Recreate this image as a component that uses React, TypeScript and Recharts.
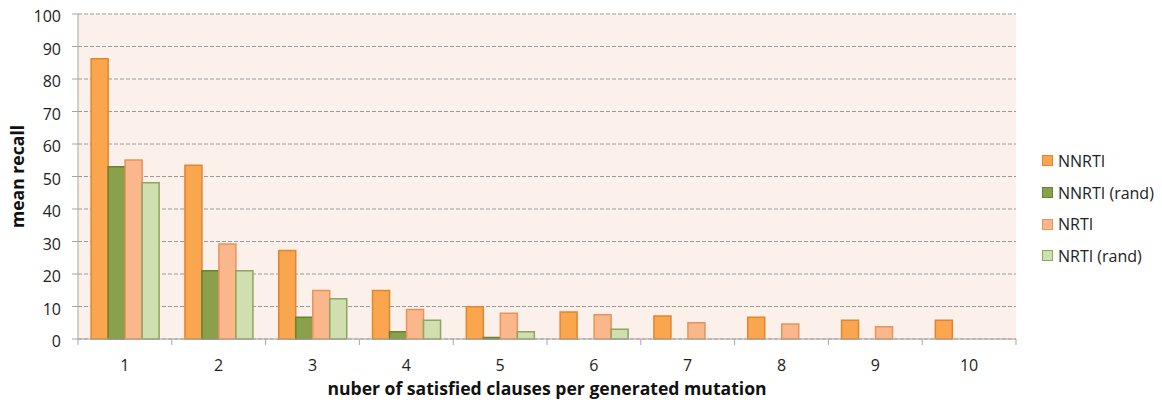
import React from "react";
import { BarChart, Bar, XAxis, YAxis, CartesianGrid, Legend, Label } from "recharts";

const categories = ["1", "2", "3", "4", "5", "6", "7", "8", "9", "10"];
const nnrti = [86.2, 53.5, 27.2, 14.9, 9.9, 8.3, 7.1, 6.7, 5.8, 5.8];
const nnrtiRand = [53.0, 21.0, 6.7, 2.2, 0.5, null, null, null, null, null];
const nrti = [55.1, 29.2, 14.9, 9.1, 7.9, 7.5, 5.0, 4.6, 3.8, null];
const nrtiRand = [48.1, 21.0, 12.4, 5.8, 2.2, 3.0, null, null, null, null];
const yTicks = [0, 10, 20, 30, 40, 50, 60, 70, 80, 90, 100];

const seriesDefs = [
  { key: "NNRTI", fill: "#F9A64F", stroke: "#E0862F" },
  { key: "NNRTI (rand)", fill: "#8AA04A", stroke: "#6A8033" },
  { key: "NRTI", fill: "#FBB78C", stroke: "#E6935E" },
  { key: "NRTI (rand)", fill: "#D0DFAE", stroke: "#8EA462" },
];

const data = categories.map((c, i) => ({
  cat: c,
  NNRTI: nnrti[i],
  "NNRTI (rand)": nnrtiRand[i],
  NRTI: nrti[i],
  "NRTI (rand)": nrtiRand[i],
}));

const FONT = "'Open Sans', sans-serif";
const BAND = 93.8;

const XTick = (props: any) => {
  const { x, y, payload, index } = props;
  const last = index === categories.length - 1;
  return (
    <g>
      <line x1={x - BAND / 2} x2={x - BAND / 2} y1={y} y2={y + 6} stroke="#A6A6A6" />
      {last && <line x1={x + BAND / 2} x2={x + BAND / 2} y1={y} y2={y + 6} stroke="#A6A6A6" />}
      <text x={x} y={y + 32} textAnchor="middle" fontFamily={FONT} fontSize={16} fill="#222">
        {payload.value}
      </text>
    </g>
  );
};

const YTick = (props: any) => {
  const { x, y, payload } = props;
  return (
    <text x={x} y={y + 8} textAnchor="end" fontFamily={FONT} fontSize={16} fill="#222">
      {payload.value}
    </text>
  );
};

const LegendContent = () => (
  <div style={{ fontFamily: FONT, fontSize: 16, color: "#222" }}>
    {seriesDefs.map((s) => (
      <div key={s.key} style={{ display: "flex", alignItems: "center", height: 31.7 }}>
        <span
          style={{
            display: "inline-block",
            width: 9,
            height: 9,
            background: s.fill,
            border: `1px solid ${s.stroke}`,
            marginRight: 5,
          }}
        />
        <span>{s.key}</span>
      </div>
    ))}
  </div>
);

export default function App() {
  return (
    <div style={{ width: 1146, height: 396 }}>
      <style>{"svg { overflow: visible; }"}</style>
      <BarChart
        width={1146}
        height={396}
        data={data}
        margin={{ top: 6, right: 138, bottom: 0, left: 0 }}
        barCategoryGap="14%"
        barGap={0}
      >
        <CartesianGrid
          vertical={false}
          fill="#FCF0EB"
          stroke="#9A9A9A"
          strokeDasharray="4 2"
        />
        <XAxis
          dataKey="cat"
          height={65}
          axisLine={{ stroke: "#A6A6A6" }}
          tickLine={false}
          tickSize={0}
          tickMargin={0}
          tick={<XTick />}
          interval={0}
        >
          <Label
            value="nuber of satisfied clauses per generated mutation"
            position="insideBottom"
            offset={9}
            style={{ fontFamily: FONT, fontSize: 17.6, fontWeight: 700, fill: "#111" }}
          />
        </XAxis>
        <YAxis
          width={70}
          domain={[0, 100]}
          ticks={yTicks}
          interval={0}
          axisLine={{ stroke: "#A6A6A6" }}
          tickLine={{ stroke: "#A6A6A6" }}
          tickSize={6}
          tickMargin={11}
          tick={<YTick />}
        >
          <Label
            content={(p: any) => {
              const vb = p.viewBox;
              const cx = vb.x + 9;
              const cy = vb.y + vb.height / 2;
              return (
                <text
                  x={cx}
                  y={cy}
                  transform={`rotate(-90 ${cx} ${cy})`}
                  textAnchor="middle"
                  dominantBaseline="central"
                  fontFamily={FONT}
                  fontSize={17.6}
                  fontWeight={700}
                  fill="#111"
                >
                  mean recall
                </text>
              );
            }}
          />
        </YAxis>
        <Legend
          layout="vertical"
          align="center"
          verticalAlign="middle"
          content={<LegendContent />}
          wrapperStyle={{ left: 1034, top: 137, width: 120 }}
        />
        {seriesDefs.map((s) => (
          <Bar
            key={s.key}
            dataKey={s.key}
            fill={s.fill}
            stroke={s.stroke}
            strokeWidth={1.5}
            isAnimationActive={false}
          />
        ))}
      </BarChart>
    </div>
  );
}
